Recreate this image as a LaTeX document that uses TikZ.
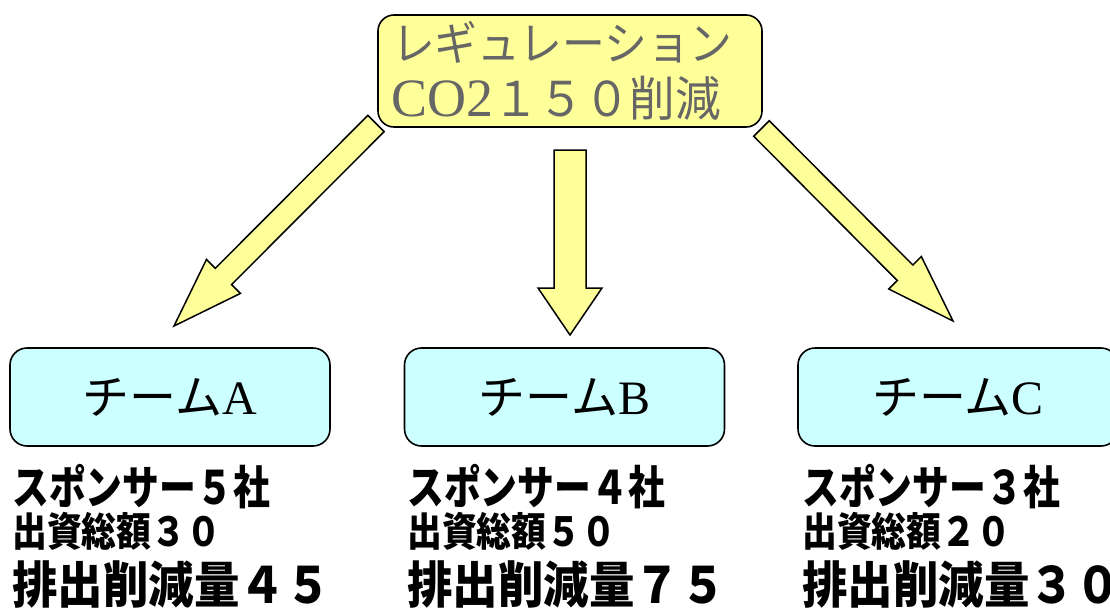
\documentclass[tikz,border=0pt]{standalone}
\usepackage{fontspec}
\usetikzlibrary{calc}
\setmainfont{Liberation Serif}
\newfontfamily\jptop[FakeStretch=0.93]{Noto Sans CJK JP}
\newfontfamily\jptopb[FakeStretch=0.95]{Noto Sans CJK JP}
\newfontfamily\jpsa[FakeStretch=0.80]{Noto Sans CJK JP}
\newfontfamily\jpsb[FakeStretch=0.87]{Noto Sans CJK JP}
\newfontfamily\jpsc[FakeStretch=0.91]{Noto Sans CJK JP}
\newfontfamily\jpteam{Noto Sans CJK JP}
\definecolor{topyellow}{RGB}{255,255,153}
\definecolor{teamcyan}{RGB}{204,255,255}
\definecolor{textgray}{RGB}{102,102,102}
\newcommand\blockarrow[5]{%
  \coordinate (hb) at ($(#2)!#5!(#1)$);
  \draw[blockarr] ($(#1)!#3!90:(#2)$) -- ($(hb)!#3!90:(#2)$) -- ($(hb)!#4!90:(#2)$)
    -- (#2) -- ($(hb)!#4!-90:(#2)$) -- ($(hb)!#3!-90:(#2)$) -- ($(#1)!#3!-90:(#2)$) -- cycle;
}
\begin{document}
\begin{tikzpicture}[x=1pt,y=-1pt,
  topbox/.style={draw=black, line width=1.6pt, fill=topyellow, rounded corners=16pt,
    minimum width=384pt, minimum height=112pt, inner sep=0pt, text width=358pt,
    align=left, text=textgray, font={\fontsize{46}{56}\selectfont\jptop}},
  teambox/.style={draw=black, line width=1.6pt, fill=teamcyan, rounded corners=17pt,
    minimum width=320pt, minimum height=98pt, inner sep=0pt,
    font={\fontsize{47}{52}\selectfont\jpteam}},
  info/.style={anchor=west, inner sep=0pt, text=black},
  infoa/.style={info, font={\fontsize{46}{50}\selectfont\jpsa\bfseries}},
  infob/.style={info, font={\fontsize{40}{44}\selectfont\jpsb\bfseries}},
  infoc/.style={info, font={\fontsize{50}{56}\selectfont\jpsc\bfseries}},
  blockarr/.style={draw=black, line width=1.5pt, fill=topyellow, line join=miter}]
\useasboundingbox (0,0) rectangle (1110,608);
\clip (0,0) rectangle (1110,608);
\fill[white] (0,0) rectangle (1110,608);

% top box
\node[topbox] (reg) at (570,71)
  {\hspace*{1pt}レギュレーション\\
   {\fontsize{54}{56}\selectfont\rmfamily CO2}{\fontsize{48}{56}\selectfont\jptopb １５０削減}};

% team boxes
\node[teambox] (teamA) at (170,397) {チーム{\fontsize{48}{52}\selectfont\rmfamily A}};
\node[teambox] (teamB) at (564.5,397) {チーム{\fontsize{48}{52}\selectfont\rmfamily B}};
\node[teambox] (teamC) at (958,397) {チーム{\fontsize{48}{52}\selectfont\rmfamily C}};

% arrows
\coordinate (tA) at (376,123.5); \coordinate (hA) at (174,326);
\coordinate (tB) at (570,150);   \coordinate (hB) at (570,335);
\coordinate (tC) at (761.5,128.5); \coordinate (hC) at (953,321);
\blockarrow{tA}{hA}{11.5pt}{24pt}{70pt}
\blockarrow{tB}{hB}{16pt}{32pt}{47pt}
\blockarrow{tC}{hC}{11pt}{23pt}{68pt}

% info texts
\node[infoa] (a1) at (12,487) {スポンサー５社};
\node[infob] (a2) at (12,531) {出資総額３０};
\node[infoc] (a3) at (12,584) {排出削減量４５};

\node[infoa] (b1) at (407,487) {スポンサー４社};
\node[infob] (b2) at (407,531) {出資総額５０};
\node[infoc] (b3) at (407,584) {排出削減量７５};

\node[infoa] (c1) at (802,487) {スポンサー３社};
\node[infob] (c2) at (802,531) {出資総額２０};
\node[infoc] (c3) at (802,584) {排出削減量３０};
\end{tikzpicture}
\end{document}
